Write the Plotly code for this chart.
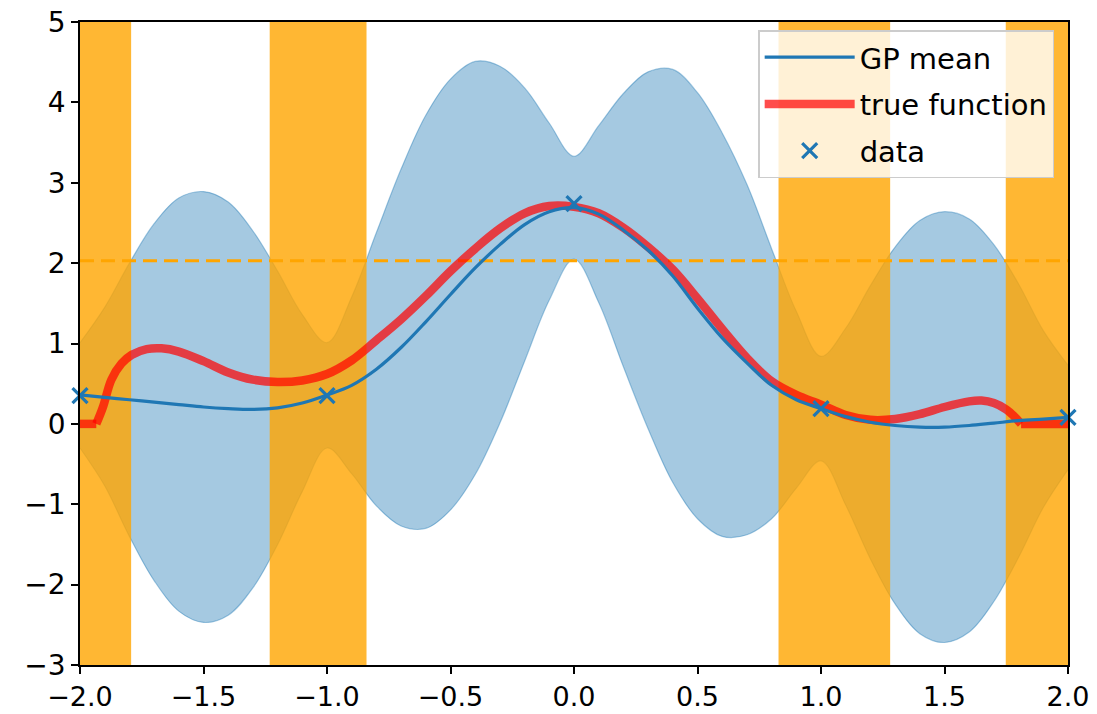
import plotly.graph_objects as go

# ---------------- data ----------------
x_grid = [-2.0, -1.9, -1.8, -1.7, -1.6, -1.5, -1.4, -1.3, -1.2, -1.1,
          -1.0, -0.9, -0.8, -0.7, -0.6, -0.5, -0.4, -0.3, -0.2, -0.1,
          0.0, 0.1, 0.2, 0.3, 0.4, 0.5, 0.6, 0.7, 0.8, 0.9,
          1.0, 1.1, 1.2, 1.3, 1.4, 1.5, 1.6, 1.7, 1.8, 1.9, 2.0]

gp_mean = [0.36, 0.33, 0.30, 0.27, 0.24, 0.21, 0.19, 0.18, 0.20, 0.26,
           0.36, 0.48, 0.68, 0.95, 1.27, 1.61, 1.94, 2.23, 2.48, 2.64,
           2.69, 2.61, 2.41, 2.16, 1.84, 1.44, 1.07, 0.76, 0.48, 0.30,
           0.19, 0.09, 0.02, -0.02, -0.04, -0.04, -0.02, 0.01, 0.04, 0.06, 0.08]

gp_upper = [1.01, 1.45, 2.00, 2.49, 2.81, 2.89, 2.76, 2.40, 1.90, 1.36,
            1.01, 1.58, 2.38, 3.17, 3.84, 4.29, 4.51, 4.45, 4.18, 3.74,
            3.33, 3.71, 4.11, 4.38, 4.41, 4.12, 3.62, 2.98, 2.18, 1.40,
            0.84, 1.19, 1.72, 2.20, 2.53, 2.64, 2.55, 2.23, 1.74, 1.16, 0.73]

gp_lower = [-0.30, -0.77, -1.40, -1.95, -2.33, -2.47, -2.38, -2.04, -1.50, -0.84,
            -0.30, -0.62, -1.02, -1.27, -1.30, -1.07, -0.63, 0.01, 0.78, 1.54,
            2.05, 1.51, 0.71, -0.06, -0.73, -1.18, -1.40, -1.38, -1.18, -0.80,
            -0.46, -1.01, -1.68, -2.24, -2.61, -2.72, -2.59, -2.21, -1.66, -1.04, -0.57]

true_x = [-2.0, -1.934, -1.907, -1.873, -1.832, -1.79, -1.73, -1.67, -1.6, -1.5,
          -1.4, -1.3, -1.2, -1.1, -1.0, -0.9, -0.8, -0.7, -0.6, -0.5,
          -0.4, -0.3, -0.2, -0.1, 0.0, 0.1, 0.2, 0.3, 0.4, 0.5,
          0.6, 0.7, 0.8, 0.9, 1.0, 1.1, 1.2, 1.3, 1.4, 1.5,
          1.6, 1.65, 1.7, 1.75, 1.78, 1.81, 2.0]
true_y = [0.0, 0.0, 0.21, 0.55, 0.75, 0.86, 0.93, 0.94, 0.90, 0.78,
          0.64, 0.55, 0.52, 0.54, 0.62, 0.79, 1.04, 1.30, 1.59, 1.90,
          2.18, 2.43, 2.62, 2.71, 2.70, 2.62, 2.44, 2.20, 1.92, 1.56,
          1.18, 0.82, 0.53, 0.36, 0.24, 0.11, 0.05, 0.06, 0.12, 0.21,
          0.28, 0.29, 0.26, 0.18, 0.10, 0.0, 0.0]

data_x = [-2.0, -1.0, 0.0, 1.0, 2.0]
data_y = [0.35, 0.35, 2.74, 0.19, 0.08]

threshold = 2.03

band_start = [-2.0, -1.232, 0.828, 1.748]
band_end = [-1.793, -0.840, 1.280, 2.0]

x_range = [-2.0, 2.0]
y_range = [-3.0, 5.0]
x_ticks = [-2.0, -1.5, -1.0, -0.5, 0.0, 0.5, 1.0, 1.5, 2.0]
x_ticktext = ["\u22122.0", "\u22121.5", "\u22121.0", "\u22120.5", "0.0", "0.5", "1.0", "1.5", "2.0"]
y_ticks = [-3, -2, -1, 0, 1, 2, 3, 4, 5]
y_ticktext = ["\u22123", "\u22122", "\u22121", "0", "1", "2", "3", "4", "5"]

# ---------------- styles ----------------
C0 = "#1f77b4"
FILL = "rgba(31,119,180,0.4)"
ORANGE_BAND = "rgba(255,165,0,0.8)"
RED = "rgba(255,0,0,0.7)"
FONT = "DejaVu Sans"

fig = go.Figure()

# confidence region
fig.add_trace(go.Scatter(x=x_grid, y=gp_lower, mode="lines", line=dict(color=FILL, width=1.2, shape="spline"),
                         showlegend=False, hoverinfo="skip"))
fig.add_trace(go.Scatter(x=x_grid, y=gp_upper, mode="lines", line=dict(color=FILL, width=1.2, shape="spline"),
                         fill="tonexty", fillcolor=FILL, showlegend=False, hoverinfo="skip"))

# orange bands
for s, e in zip(band_start, band_end):
    fig.add_trace(go.Scatter(x=[s, e, e, s, s], y=[y_range[0], y_range[0], y_range[1], y_range[1], y_range[0]],
                             mode="lines", line=dict(width=0, color=ORANGE_BAND), fill="toself",
                             fillcolor=ORANGE_BAND, showlegend=False, hoverinfo="skip"))

# threshold dashed line
fig.add_trace(go.Scatter(x=x_range, y=[threshold, threshold], mode="lines",
                         line=dict(color="#FFA500", width=3, dash="14px,7px"),
                         showlegend=False, hoverinfo="skip"))

# true function (flat / curved / flat parts)
fig.add_trace(go.Scatter(x=true_x[:2], y=true_y[:2], mode="lines", line=dict(color=RED, width=8.5),
                         legendgroup="true", showlegend=False, hoverinfo="skip"))
fig.add_trace(go.Scatter(x=true_x[1:-1], y=true_y[1:-1], mode="lines",
                         line=dict(color=RED, width=8.5, shape="spline"),
                         name="true function", legendgroup="true", legendrank=2))
fig.add_trace(go.Scatter(x=true_x[-2:], y=true_y[-2:], mode="lines", line=dict(color=RED, width=8.5),
                         legendgroup="true", showlegend=False, hoverinfo="skip"))

# GP mean
fig.add_trace(go.Scatter(x=x_grid, y=gp_mean, mode="lines", line=dict(color=C0, width=3.2, shape="spline"),
                         name="GP mean", legendgroup="mean", legendrank=1))

# data
fig.add_trace(go.Scatter(x=data_x, y=data_y, mode="markers",
                         marker=dict(symbol="x-thin", size=15, color=C0, line=dict(width=3.2, color=C0)),
                         name="data", legendgroup="data", legendrank=3, cliponaxis=False))

axis_common = dict(showline=True, mirror=True, linecolor="black", linewidth=1.6,
                   ticks="outside", ticklen=7, tickwidth=1.6, tickcolor="black",
                   showgrid=False, zeroline=False, automargin=False)

fig.update_layout(
    width=1097, height=714,
    margin=dict(l=80, r=29, t=22, b=49),
    paper_bgcolor="white", plot_bgcolor="white",
    font=dict(family=FONT, size=28, color="black"),
    xaxis=dict(range=x_range, tickvals=x_ticks, ticktext=x_ticktext,
               tickfont=dict(family=FONT, size=27, color="black"), **axis_common),
    yaxis=dict(range=y_range, tickvals=y_ticks, ticktext=y_ticktext,
               tickfont=dict(family=FONT, size=28, color="black"), **axis_common),
    legend=dict(x=0.986, y=0.987, xanchor="right", yanchor="top",
                bgcolor="rgba(255,255,255,0.8)", bordercolor="#cccccc", borderwidth=1.5,
                font=dict(family=FONT, size=29, color="black"),
                itemwidth=90, traceorder="grouped", tracegroupgap=6),
)

fig.write_html("out.html")
